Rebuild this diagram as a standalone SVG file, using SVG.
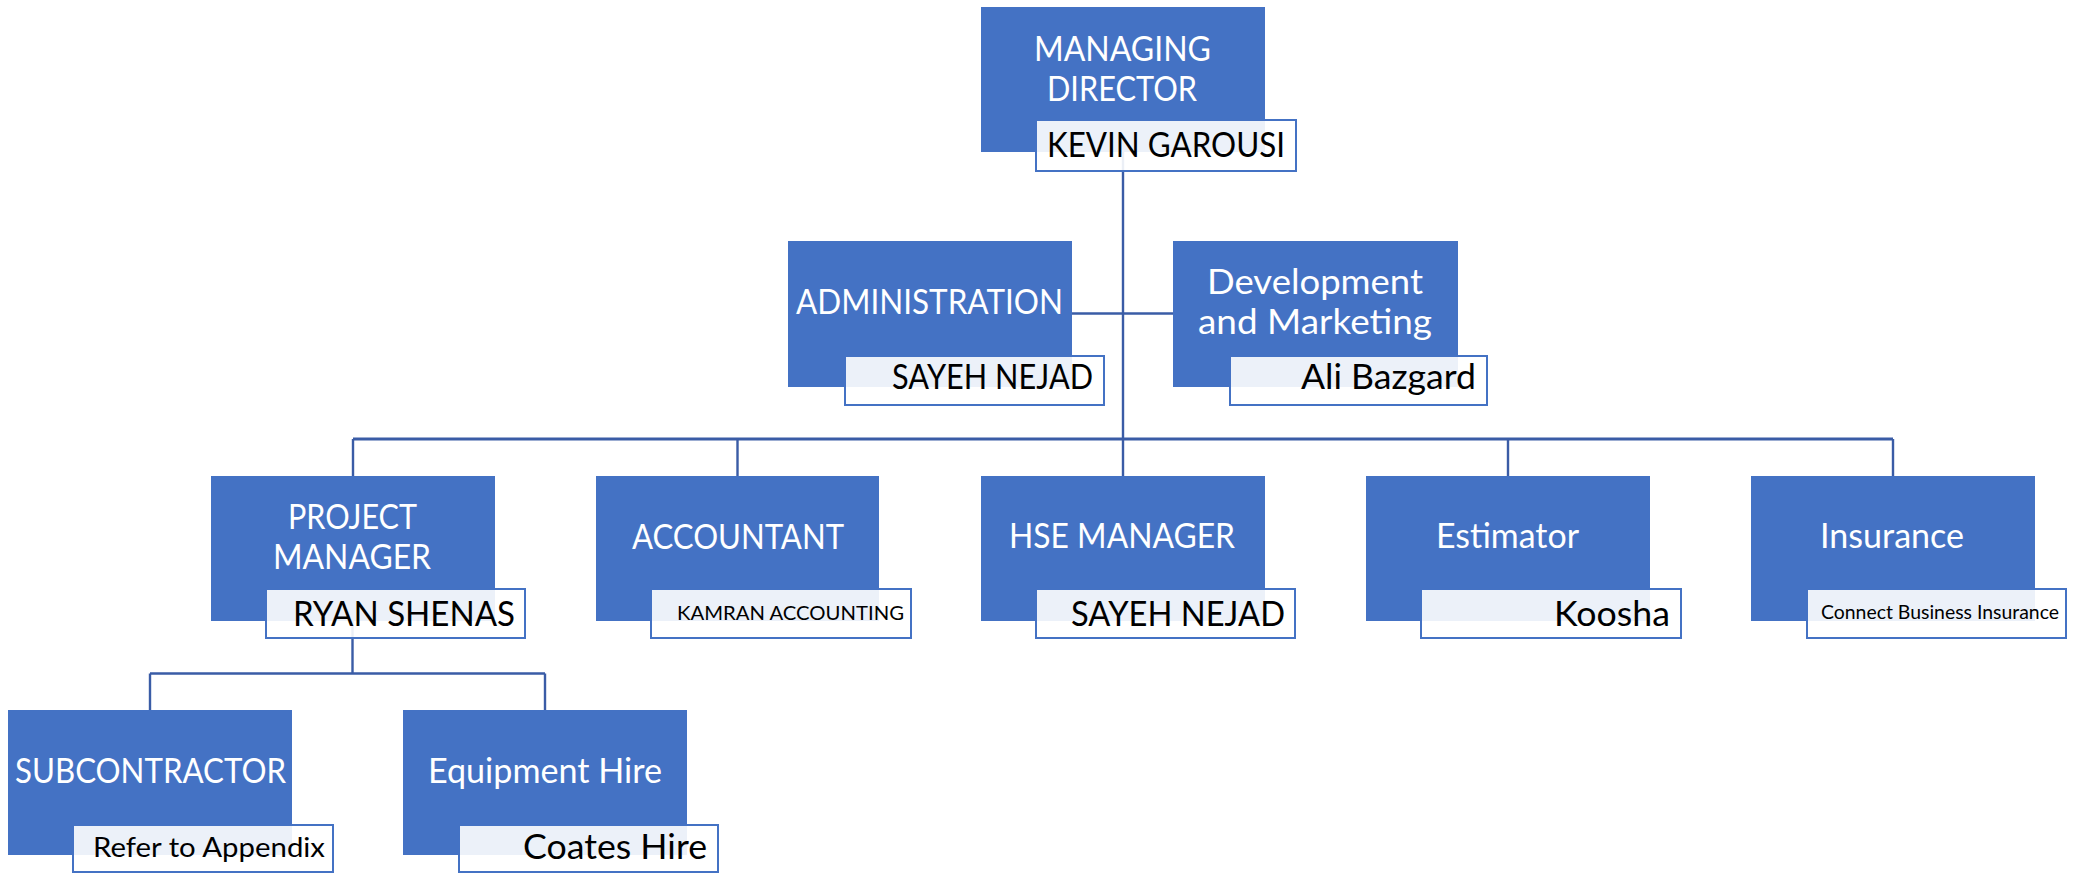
<svg xmlns="http://www.w3.org/2000/svg" width="2085" height="873" viewBox="0 0 2085 873">
<style>
.box{fill:#4472C4;}
.name{fill:#FFFFFF;fill-opacity:0.9;stroke:#4472C4;stroke-width:2;}
.t{font-family:"Lato","Open Sans",sans-serif;font-size:34px;fill:#FFFFFF;}
.n{font-family:"Lato","Open Sans",sans-serif;font-size:34px;fill:#000000;}
.ns{font-size:20px;}
.nm{font-size:27px;}
.c{fill:none;stroke:#3A5CA6;stroke-width:2.4;}
</style>
<rect width="2085" height="873" fill="#FFFFFF"/>
<g id="connectors">
<path class="c" d="M1123 152 V476"/>
<path class="c" d="M1072 313.5 H1173"/>
<path class="c" style="stroke-width:2.8" d="M353 439 H1893"/>
<path class="c" d="M353 439 V476 M737.5 439 V476 M1508 439 V476 M1893 439 V476"/>
<path class="c" d="M352.5 621 V673.5 M150 673.5 H545 M150 673.5 V710 M545 673.5 V710"/>
</g>
<g id="managing-director">
<rect class="box" x="981" y="7" width="284" height="145"/>
<text class="t" x="1034" y="61" textLength="177" lengthAdjust="spacingAndGlyphs">MANAGING</text>
<text class="t" x="1047" y="101" textLength="150" lengthAdjust="spacingAndGlyphs">DIRECTOR</text>
<rect class="name" x="1036" y="120" width="260" height="51"/>
<text class="n" x="1047" y="157" textLength="238" lengthAdjust="spacingAndGlyphs">KEVIN GAROUSI</text>
</g>
<g id="administration">
<rect class="box" x="788" y="241" width="284" height="146"/>
<text class="t" x="796" y="314" textLength="267" lengthAdjust="spacingAndGlyphs">ADMINISTRATION</text>
<rect class="name" x="845" y="356" width="259" height="49"/>
<text class="n" x="892" y="389" textLength="201" lengthAdjust="spacingAndGlyphs">SAYEH NEJAD</text>
</g>
<g id="development">
<rect class="box" x="1173" y="241" width="285" height="146"/>
<text class="t" x="1207" y="294" textLength="216" lengthAdjust="spacingAndGlyphs">Development</text>
<text class="t" x="1198" y="334" textLength="234" lengthAdjust="spacingAndGlyphs">and Marketing</text>
<rect class="name" x="1230" y="356" width="257" height="49"/>
<text class="n" x="1301" y="389" textLength="175" lengthAdjust="spacingAndGlyphs">Ali Bazgard</text>
</g>
<g id="project-manager">
<rect class="box" x="211" y="476" width="284" height="145"/>
<text class="t" x="288" y="529" textLength="129" lengthAdjust="spacingAndGlyphs">PROJECT</text>
<text class="t" x="273" y="569" textLength="158" lengthAdjust="spacingAndGlyphs">MANAGER</text>
<rect class="name" x="266" y="589" width="259" height="49"/>
<text class="n" x="293" y="626" textLength="222" lengthAdjust="spacingAndGlyphs">RYAN SHENAS</text>
</g>
<g id="accountant">
<rect class="box" x="596" y="476" width="283" height="145"/>
<text class="t" x="632" y="549" textLength="212" lengthAdjust="spacingAndGlyphs">ACCOUNTANT</text>
<rect class="name" x="651" y="589" width="260" height="49"/>
<text class="n ns" x="677" y="620" textLength="227" lengthAdjust="spacingAndGlyphs">KAMRAN ACCOUNTING</text>
</g>
<g id="hse-manager">
<rect class="box" x="981" y="476" width="284" height="145"/>
<text class="t" x="1009" y="548" textLength="226" lengthAdjust="spacingAndGlyphs">HSE MANAGER</text>
<rect class="name" x="1036" y="589" width="259" height="49"/>
<text class="n" x="1071" y="626" textLength="214" lengthAdjust="spacingAndGlyphs">SAYEH NEJAD</text>
</g>
<g id="estimator">
<rect class="box" x="1366" y="476" width="284" height="145"/>
<text class="t" x="1436" y="548" textLength="143" lengthAdjust="spacingAndGlyphs">Estimator</text>
<rect class="name" x="1421" y="589" width="260" height="49"/>
<text class="n" x="1554" y="626" textLength="116" lengthAdjust="spacingAndGlyphs">Koosha</text>
</g>
<g id="insurance">
<rect class="box" x="1751" y="476" width="284" height="145"/>
<text class="t" x="1820" y="548" textLength="144" lengthAdjust="spacingAndGlyphs">Insurance</text>
<rect class="name" x="1807" y="589" width="259" height="49"/>
<text class="n ns" x="1821" y="619" textLength="238" lengthAdjust="spacingAndGlyphs">Connect Business Insurance</text>
</g>
<g id="subcontractor">
<rect class="box" x="8" y="710" width="284" height="145"/>
<text class="t" x="15" y="783" textLength="271" lengthAdjust="spacingAndGlyphs">SUBCONTRACTOR</text>
<rect class="name" x="73" y="825" width="260" height="47"/>
<text class="n nm" x="93" y="857" textLength="232" lengthAdjust="spacingAndGlyphs">Refer to Appendix</text>
</g>
<g id="equipment-hire">
<rect class="box" x="403" y="710" width="284" height="145"/>
<text class="t" x="428" y="783" textLength="234" lengthAdjust="spacingAndGlyphs">Equipment Hire</text>
<rect class="name" x="459" y="825" width="259" height="47"/>
<text class="n" x="523" y="859" textLength="184" lengthAdjust="spacingAndGlyphs">Coates Hire</text>
</g>
</svg>
